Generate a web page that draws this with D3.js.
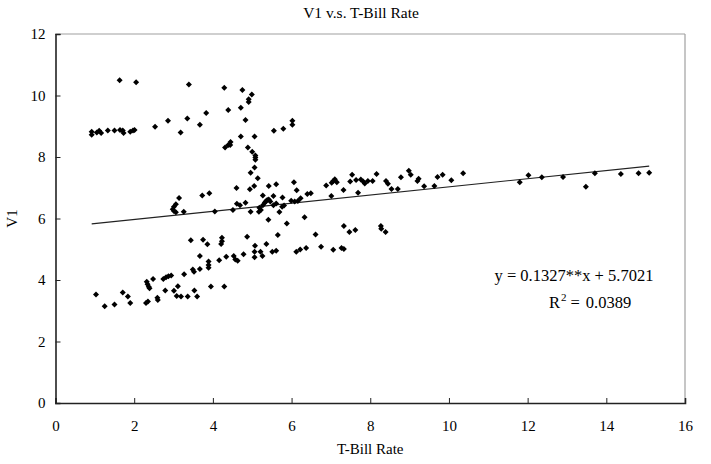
<!DOCTYPE html>
<html>
<head>
<meta charset="utf-8">
<script src="https://cdn.jsdelivr.net/npm/d3@7"></script>
<style>
html,body{margin:0;padding:0;background:#fff;}
svg{display:block;}
text{font-family:"Liberation Serif","Times New Roman",serif;fill:#000;}
</style>
</head>
<body>
<svg id="chart" width="711" height="464"></svg>
<script>
const title = "V1 v.s. T-Bill Rate";
const xTitle = "T-Bill Rate";
const yTitle = "V1";
const xTicks = [0, 2, 4, 6, 8, 10, 12, 14, 16];
const yTicks = [0, 2, 4, 6, 8, 10, 12];
const slope = 0.1327;
const intercept = 5.7021;
const eqLabel = "y = 0.1327**x + 5.7021";
const r2Value = "0.0389";

const tbill = [
0.92,0.92,1.05,1.11,1.16,1.33,1.50,1.64,1.71,1.73,1.90,1.97,2.01,
1.63,2.05,3.39,4.29,4.39,3.83,3.67,3.35,2.86,2.53,3.18,4.31,4.39,4.75,4.99,4.91,4.91,4.71,4.83,6.02,6.02,5.79,5.55,4.71,5.06,4.45,4.44,4.89,5.00,5.08,5.08,5.08,5.06,4.96,5.14,
3.14,3.06,3.01,2.98,3.01,3.06,3.26,3.73,3.91,4.05,4.60,5.05,4.94,5.42,5.61,5.27,5.42,5.54,5.34,5.46,5.77,6.06,6.13,4.61,4.69,4.83,4.96,4.51,5.18,5.22,5.17,5.27,5.32,5.38,5.61,5.54,5.69,5.76,5.81,5.99,6.08,6.16,6.23,6.40,6.49,6.88,7.01,7.02,7.10,7.15,7.06,7.32,7.49,7.54,7.64,7.69,7.76,7.82,7.86,7.94,8.06,8.16,8.40,8.45,8.54,8.70,8.78,8.98,9.03,9.20,9.23,9.37,9.63,9.71,9.84,10.06,10.36,11.80,12.02,12.36,12.90,13.48,13.71,14.37,14.82,15.09,
5.41,5.88,6.33,5.65,4.87,5.36,5.07,5.06,5.21,5.51,5.61,5.06,5.26,4.78,4.53,4.57,4.63,6.12,6.22,6.37,6.61,6.75,7.06,7.27,7.33,7.33,7.47,7.62,8.27,8.28,8.39,
3.44,3.75,3.86,4.23,4.23,4.21,3.67,3.89,3.89,3.89,3.67,3.49,3.52,3.27,4.16,4.34,2.94,2.87,2.81,2.74,2.48,2.32,2.34,2.37,2.39,2.79,3.01,3.11,3.53,3.95,4.29,1.03,1.71,1.84,2.59,3.08,3.19,3.36,3.60,
1.25,1.50,1.90,2.30,2.35,2.60
];
const v1 = [
8.82,8.72,8.80,8.85,8.78,8.86,8.86,8.88,8.86,8.78,8.82,8.86,8.88,
10.50,10.43,10.36,10.25,9.53,9.43,9.05,9.25,9.18,8.98,8.80,8.31,8.39,10.18,10.03,9.88,9.79,9.60,9.20,9.18,9.05,8.92,8.85,8.67,8.67,8.49,8.39,8.31,8.17,8.05,7.98,7.91,7.66,7.49,7.31,
6.67,6.46,6.38,6.30,6.24,6.20,6.22,6.75,6.82,6.23,6.99,7.06,6.95,7.06,7.11,6.75,6.62,6.73,6.55,6.55,6.68,7.18,6.92,6.48,6.43,6.51,6.22,6.28,6.35,6.28,6.22,6.43,6.51,6.60,6.49,6.43,6.21,6.38,6.42,6.58,6.55,6.57,6.66,6.80,6.82,7.07,6.73,7.16,7.28,7.18,7.22,6.93,7.20,7.42,7.25,6.84,7.27,7.20,7.14,7.22,7.22,7.45,7.22,7.13,6.96,6.96,7.34,7.55,7.42,7.22,7.29,7.05,7.06,7.35,7.42,7.24,7.47,7.18,7.41,7.34,7.35,7.03,7.47,7.45,7.47,7.49,
5.96,5.84,6.04,5.46,5.41,5.17,5.11,4.92,4.92,4.92,4.95,4.74,4.78,4.84,4.78,4.67,4.63,4.92,4.99,5.04,5.48,5.08,4.98,5.04,5.01,5.76,5.56,5.63,5.76,5.67,5.56,
5.29,5.31,5.16,5.37,5.26,5.17,4.78,4.60,4.49,4.40,4.36,4.34,4.27,4.19,4.64,4.76,4.15,4.12,4.09,4.03,4.03,3.94,3.86,3.78,3.73,3.66,3.65,3.80,3.66,3.79,3.79,3.53,3.59,3.46,3.42,3.48,3.46,3.46,3.46,
3.15,3.20,3.25,3.25,3.30,3.35
];

const points = tbill.map((d, i) => ({x: d, y: v1[i]}));

const svg = d3.select("#chart");
const pLeft = 55.5, pRight = 685, pTop = 34, pBottom = 403;
const x = d3.scaleLinear().domain([0, 16]).range([pLeft, pRight]);
const y = d3.scaleLinear().domain([0, 12]).range([pBottom, pTop]);

// frame (top/right light)
svg.append("line").attr("x1", pLeft).attr("x2", pRight).attr("y1", pTop).attr("y2", pTop)
  .attr("stroke", "#a0a0a0").attr("stroke-width", 1.2);
svg.append("line").attr("x1", pRight).attr("x2", pRight).attr("y1", pTop).attr("y2", pBottom)
  .attr("stroke", "#a0a0a0").attr("stroke-width", 1.2);

// axes
const xAxis = d3.axisBottom(x).tickValues(xTicks).tickSize(-5).tickPadding(17).tickFormat(d3.format("d"));
const yAxis = d3.axisLeft(y).tickValues(yTicks).tickSize(-5).tickPadding(10).tickFormat(d3.format("d"));

const gx = svg.append("g").attr("transform", `translate(0,${pBottom})`).call(xAxis);
const gy = svg.append("g").attr("transform", `translate(${pLeft},0)`).call(yAxis);
[gx, gy].forEach(g => {
  g.select(".domain").attr("stroke", "#222").attr("stroke-width", 1.6);
  g.selectAll(".tick line").attr("stroke", "#222").attr("stroke-width", 1);
  g.selectAll(".tick text").attr("font-family", "Liberation Serif").attr("font-size", 15).attr("fill", "#000");
});

// regression line
const xmin = d3.min(tbill), xmax = d3.max(tbill);
svg.append("line")
  .attr("x1", x(xmin)).attr("y1", y(slope * xmin + intercept))
  .attr("x2", x(xmax)).attr("y2", y(slope * xmax + intercept))
  .attr("stroke", "#222").attr("stroke-width", 1.1);

// points
svg.append("g").selectAll("path").data(points).enter().append("path")
  .attr("d", "M0,-3L3,0L0,3L-3,0Z")
  .attr("transform", d => `translate(${x(d.x)},${y(d.y)})`)
  .attr("fill", "#000");

// titles
svg.append("text").attr("x", 361).attr("y", 18).attr("text-anchor", "middle")
  .attr("font-size", 15.5).text(title);
svg.append("text").attr("x", (pLeft + pRight) / 2).attr("y", 454).attr("text-anchor", "middle")
  .attr("font-size", 15).text(xTitle);
svg.append("text").attr("transform", `translate(17,${(pTop + pBottom) / 2}) rotate(-90)`)
  .attr("text-anchor", "middle").attr("font-size", 15).text(yTitle);

// equation
svg.append("text").attr("x", 574).attr("y", 281).attr("text-anchor", "middle")
  .attr("font-size", 16.5).text(eqLabel);
const r2 = svg.append("text").attr("x", 549).attr("y", 308).attr("text-anchor", "start")
  .attr("font-size", 16.5);
r2.append("tspan").text("R");
r2.append("tspan").attr("font-size", 11).attr("dy", -7).attr("dx", 1).text("2");
r2.append("tspan").attr("dy", 7).attr("dx", 4).text("=");
r2.append("tspan").attr("dx", 6).text(r2Value);
</script>
</body>
</html>
